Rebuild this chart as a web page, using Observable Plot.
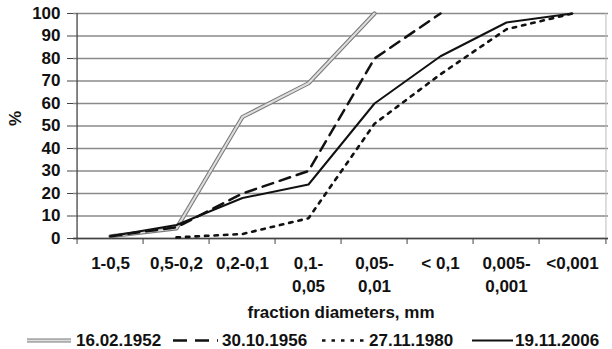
<!DOCTYPE html>
<html>
<head>
<meta charset="utf-8">
<script src="https://cdn.jsdelivr.net/npm/d3@7"></script>
<script src="https://cdn.jsdelivr.net/npm/@observablehq/plot@0.6"></script>
<style>
  html, body { margin: 0; padding: 0; background: #fff; }
  #wrap { position: relative; width: 612px; height: 349px; font-family: "Liberation Sans", Arial, sans-serif; font-weight: bold; color: #111; }
  #legend { position: absolute; left: 0; top: 326px; }
</style>
</head>
<body>
<div id="wrap"><div id="chart"></div><svg id="legend" width="612" height="23"></svg></div>
<script>
const categories = ["1-0,5", "0,5-0,2", "0,2-0,1", "0,1-\n0,05", "0,05-\n0,01", "< 0,1", "0,005-\n0,001", "<0,001"];
const seriesNames = ["16.02.1952", "30.10.1956", "27.11.1980", "19.11.2006"];
const s1952 = [1, 4.5, 54, 69, 100, null, null, null];
const s1956 = [1, 5, 20, 30, 80, 100, null, null];
const s1980 = [null, 0.5, 2, 9, 51, 73, 93, 100];
const s2006 = [1, 6, 18, 24, 60, 81, 96, 100];
const yTicks = [0, 10, 20, 30, 40, 50, 60, 70, 80, 90, 100];
const yLabel = "%";
const xLabel = "fraction diameters, mm";

const W = 612, H = 326, mL = 73, mR = 4, mT = 13, mB = 88;
const step = (W - mL - mR) / categories.length;

function rows(vals, name) {
  return vals.map((v, i) => ({cat: categories[i], v, name})).filter(d => d.v != null);
}
const d1952 = rows(s1952, seriesNames[0]);
const d1956 = rows(s1956, seriesNames[1]);
const d1980 = rows(s1980, seriesNames[2]);
const d2006 = rows(s2006, seriesNames[3]);

const FS = 17;
const chart = Plot.plot({
  width: W, height: H,
  marginLeft: mL, marginRight: mR, marginTop: mT, marginBottom: mB,
  style: {fontFamily: "'Liberation Sans', Arial, sans-serif", fontWeight: "bold", fontSize: FS + "px", color: "#111", background: "#fff"},
  x: {type: "point", domain: categories, padding: 0.5},
  y: {domain: [0, 100]},
  marks: [
    Plot.gridY(yTicks, {stroke: "#8a8a8a", strokeOpacity: 1, strokeWidth: 1.3}),
    Plot.ruleX([categories[categories.length - 1]], {x: d => d, dx: step / 2, y1: 0, y2: 100, stroke: "#bbb", strokeWidth: 1}),
    Plot.ruleX([categories[0]], {x: d => d, dx: -step / 2, y1: 0, y2: 100, stroke: "#444", strokeWidth: 1.3}),
    Plot.ruleY([0], {stroke: "#444", strokeWidth: 1.3}),
    Plot.axisY({ticks: yTicks, tickSize: 6, tickPadding: 7, fontSize: FS, fontWeight: "bold", stroke: "#444", label: null}),
    Plot.axisX({ticks: categories, tickSize: 6, dx: -step / 2, tickFormat: () => "", stroke: "#444", label: null}),
    Plot.axisX({ticks: [categories[categories.length - 1]], tickSize: 6, dx: step / 2, tickFormat: () => "", stroke: "#444", label: null}),
    Plot.axisX({ticks: categories, tickSize: 0, tickPadding: 13, fontSize: FS, fontWeight: "bold", lineHeight: 1.41, tickFormat: d => d, label: null}),
    Plot.text([yLabel], {frameAnchor: "left", dx: -58, rotate: -90, fontSize: FS, fontWeight: "bold", fill: "#111"}),
    Plot.text([xLabel], {frameAnchor: "bottom", dy: 79, lineAnchor: "bottom", fontSize: FS, fontWeight: "bold", fill: "#111"}),
    // 1952: gray double line
    Plot.line(d1952, {x: "cat", y: "v", stroke: "#7a7a7a", strokeWidth: 4.2}),
    Plot.line(d1952, {x: "cat", y: "v", stroke: "#dedede", strokeWidth: 2}),
    // 1956 dashed
    Plot.line(d1956, {x: "cat", y: "v", stroke: "#111", strokeWidth: 2.5, strokeDasharray: "11,7"}),
    // 1980 dotted
    Plot.line(d1980, {x: "cat", y: "v", stroke: "#111", strokeWidth: 2.6, strokeDasharray: "3.5,6"}),
    // 2006 solid
    Plot.line(d2006, {x: "cat", y: "v", stroke: "#111", strokeWidth: 2})
  ]
});
document.getElementById("chart").appendChild(chart);

// legend
const lg = d3.select("#legend");
const items = [
  {name: seriesNames[0], x0: 27, x1: 71, tx: 76, styles: [{stroke: "#7a7a7a", w: 4.2}, {stroke: "#dedede", w: 2}]},
  {name: seriesNames[1], x0: 173, x1: 218, tx: 222, styles: [{stroke: "#111", w: 2.5, dash: "14,8"}]},
  {name: seriesNames[2], x0: 322, x1: 368, tx: 369, styles: [{stroke: "#111", w: 2.6, dash: "3.5,6"}]},
  {name: seriesNames[3], x0: 472, x1: 513, tx: 515, styles: [{stroke: "#111", w: 2}]}
];
const ly = 14.5;
for (const it of items) {
  for (const s of it.styles) {
    lg.append("line").attr("x1", it.x0).attr("x2", it.x1).attr("y1", ly).attr("y2", ly)
      .attr("stroke", s.stroke).attr("stroke-width", s.w).attr("stroke-dasharray", s.dash || null);
  }
  lg.append("text").attr("x", it.tx).attr("y", 20).attr("font-size", FS).attr("font-weight", "bold")
    .attr("font-family", "'Liberation Sans', Arial, sans-serif").attr("fill", "#111").text(it.name);
}
</script>
</body>
</html>
